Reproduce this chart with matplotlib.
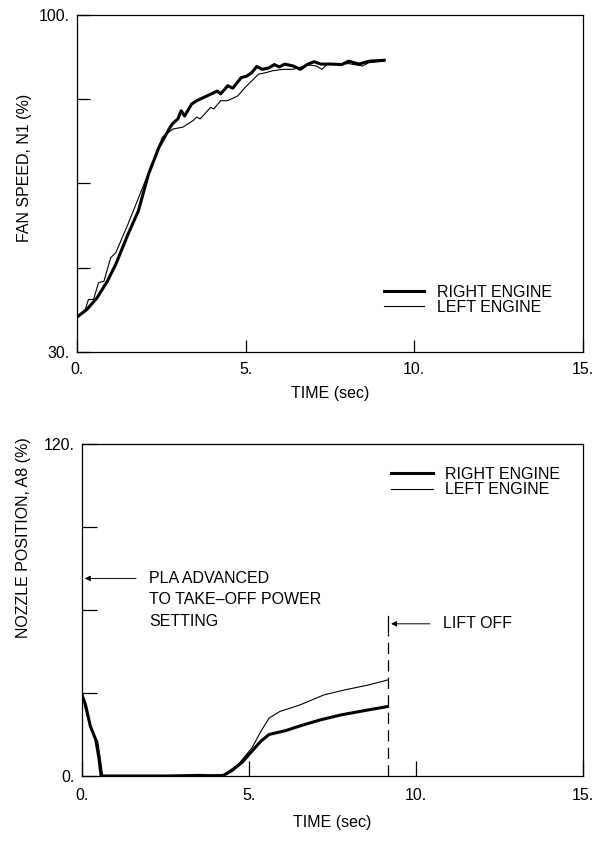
import numpy as np
import matplotlib
matplotlib.use("Agg")
import matplotlib.pyplot as plt

plt.rcParams['font.family'] = ['Liberation Sans', 'DejaVu Sans']
plt.rcParams['font.size'] = 11.5

# fan speed N1 (%) vs time (sec)
t_n1_right = [0.03, 0.29, 0.59, 0.90, 1.15, 1.51, 1.82, 2.12, 2.43, 2.73, 2.83, 2.99, 3.09, 3.19, 3.40,
              3.55, 3.86, 4.16, 4.26, 4.47, 4.62, 4.87, 5.03, 5.18, 5.33, 5.49, 5.69, 5.85, 6.00, 6.16,
              6.41, 6.62, 6.82, 7.03, 7.23, 7.54, 7.85, 8.05, 8.36, 8.66, 9.11]
n1_right = [37.4, 38.8, 41.2, 44.7, 48.2, 54.4, 59.3, 66.9, 72.5, 76.3, 77.4, 78.4, 80.1, 79.0, 81.5,
            82.2, 83.2, 84.2, 83.6, 85.3, 84.8, 87.0, 87.3, 88.0, 89.3, 88.7, 89.0, 89.7, 89.2, 89.8,
            89.4, 88.7, 89.7, 90.3, 89.8, 89.8, 89.7, 90.4, 89.8, 90.4, 90.6]
t_n1_left = [0.03, 0.23, 0.34, 0.49, 0.64, 0.80, 1.00, 1.15, 1.51, 1.87, 2.22, 2.53, 2.84, 3.14, 3.45,
             3.55, 3.65, 3.96, 4.06, 4.26, 4.47, 4.77, 4.98, 5.18, 5.38, 5.59, 5.79, 6.10, 6.40, 6.60,
             6.90, 7.10, 7.26, 7.44, 7.75, 8.05, 8.46, 8.66, 9.11]
n1_left = [37.4, 38.5, 40.9, 40.9, 44.4, 44.7, 49.6, 50.6, 56.5, 62.8, 69.0, 74.6, 76.3, 76.7, 78.1,
           78.8, 78.4, 80.8, 80.5, 82.2, 82.2, 83.2, 84.9, 86.3, 87.7, 88.0, 88.4, 88.7, 88.7, 89.1,
           89.6, 89.4, 88.7, 89.9, 89.7, 89.9, 89.4, 90.1, 90.4]

# nozzle position A8 (%) vs time (sec)
t_a8_right = [0.0, 0.1, 0.25, 0.41, 0.5, 0.57, 1.5, 2.5, 3.5, 4.2, 4.47, 4.8, 5.09, 5.35, 5.6, 6.1, 6.5,
              7.14, 7.76, 8.58, 9.15]
a8_right = [29.3, 26.0, 18.0, 13.2, 7.0, 0.0, 0.0, 0.0, 0.2, 0.0, 1.8, 5.0, 9.0, 12.5, 15.0, 16.4, 18.0,
            20.3, 22.1, 23.9, 25.1]
t_a8_left = [0.0, 0.15, 0.36, 0.47, 0.55, 0.62, 1.5, 2.5, 3.5, 4.26, 4.68, 5.09, 5.35, 5.6, 5.92, 6.53,
             7.24, 7.86, 8.58, 9.15]
a8_left = [29.0, 22.0, 14.4, 12.6, 6.0, 0.0, 0.0, 0.0, 0.0, 0.6, 4.2, 10.2, 16.0, 20.9, 23.3, 25.7,
           29.3, 31.1, 32.9, 34.7]

t_liftoff = 9.17

fig = plt.figure(figsize=(5.99, 8.41), dpi=100)
ax1 = fig.add_axes([0.1285, 0.5815, 0.8447, 0.4007])
ax2 = fig.add_axes([0.1369, 0.0773, 0.8364, 0.3948])

for ax in (ax1, ax2):
    for s in ax.spines.values():
        s.set_linewidth(0.9)
    ax.tick_params(direction='in', width=0.9, top=False, right=False)
    ax.tick_params(axis='y', pad=5)
    ax.set_xlim(0, 15)
    ax.set_xticks([0, 5, 10, 15])
    ax.set_xticklabels(['0.', '5.', '10.', '15.'])

# top panel
ax1.tick_params(length=9)
ax1.tick_params(axis='x', pad=7)
ax1.plot(t_n1_right, n1_right, color='black', lw=2.2, label='RIGHT ENGINE')
ax1.plot(t_n1_left, n1_left, color='black', lw=0.8, label='LEFT ENGINE')
ax1.set_ylim(30, 100)
ax1.set_yticks([30, 47.5, 65, 82.5, 100])
ax1.set_yticklabels(['30.', '', '', '', '100.'])
ax1.set_xlabel('TIME (sec)', labelpad=7)
ax1.set_ylabel('FAN SPEED, N1 (%)')
ax1.yaxis.set_label_coords(-0.089, 0.546)
ax1.legend(loc='upper left', bbox_to_anchor=(0.607, 0.2), frameon=False, borderpad=0,
           borderaxespad=0, handlelength=2.5, handletextpad=0.8, labelspacing=0.0)

# bottom panel
ax2.tick_params(length=11)
ax2.tick_params(axis='x', pad=9)
ax2.plot(t_a8_right, a8_right, color='black', lw=2.2, label='RIGHT ENGINE')
ax2.plot(t_a8_left, a8_left, color='black', lw=0.8, label='LEFT ENGINE')
ax2.set_ylim(0, 120)
ax2.set_yticks([0, 30, 60, 90, 120])
ax2.set_yticklabels(['0.', '', '', '', '120.'])
ax2.set_xlabel('TIME (sec)', labelpad=8)
ax2.set_ylabel('NOZZLE POSITION, A8 (%)')
ax2.yaxis.set_label_coords(-0.102, 0.717)
ax2.legend(loc='upper left', bbox_to_anchor=(0.617, 0.932), frameon=False, borderpad=0,
           borderaxespad=0, handlelength=2.6, handletextpad=0.8, labelspacing=0.05)

# lift off marker
ax2.plot([t_liftoff, t_liftoff], [0, 51.5], color='black', lw=0.9, dashes=(9, 5))
ax2.plot([t_liftoff, t_liftoff], [52, 58], color='black', lw=0.9)
ax2.annotate('', xy=(t_liftoff, 55.0), xytext=(10.5, 55.0),
             arrowprops=dict(arrowstyle='-|>', color='black', lw=0.7, mutation_scale=8))
ax2.text(10.8, 55.0, 'LIFT OFF', va='center', ha='left')

# PLA annotation
ax2.annotate('', xy=(0, 71.4), xytext=(1.7, 71.4),
             arrowprops=dict(arrowstyle='-|>', color='black', lw=0.7, mutation_scale=8))
ax2.text(2.02, 63.7, 'PLA ADVANCED\nTO TAKE\u2013OFF POWER\nSETTING', va='center', ha='left',
         linespacing=1.55)

fig.savefig('out.png', dpi=100)
